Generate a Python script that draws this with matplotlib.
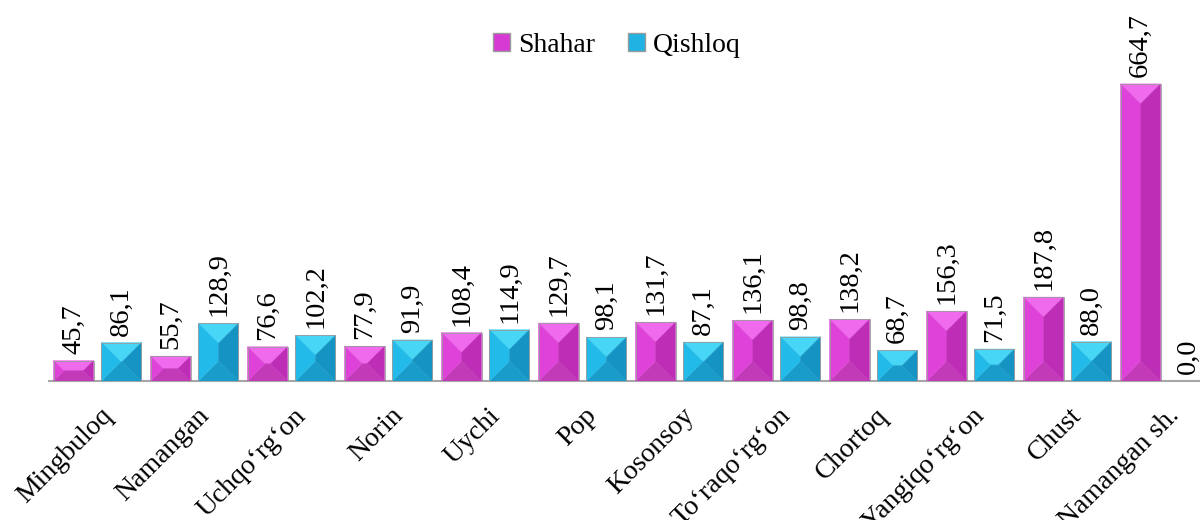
import matplotlib.pyplot as plt
import matplotlib.patches as patches
import matplotlib.transforms as mtransforms
import numpy as np

plt.rcParams['font.family'] = ['Liberation Serif', 'DejaVu Serif']

# data
districts = ["Mingbuloq", "Namangan", "Uchqo\u2018rg\u2018on", "Norin", "Uychi", "Pop",
             "Kosonsoy", "To\u2018raqo\u2018rg\u2018on", "Chortoq", "Yangiqo\u2018rg\u2018on",
             "Chust", "Namangan sh."]
shahar = [45.7, 55.7, 76.6, 77.9, 108.4, 129.7, 131.7, 136.1, 138.2, 156.3, 187.8, 664.7]
qishloq = [86.1, 128.9, 102.2, 91.9, 114.9, 98.1, 87.1, 98.8, 68.7, 71.5, 88.0, 0.0]

# face colours: main, top, left, right, bottom
pink = dict(main="#D73AD2", top="#F06AEE", left="#DE42D8", right="#BE2DB6", bottom="#C23AB8")
blue = dict(main="#1FB2E2", top="#48D6F6", left="#22BAE8", right="#1594C4", bottom="#1A9CCA")

W, H, DPI = 1200, 520, 100
fig = plt.figure(figsize=(W / DPI, H / DPI), dpi=DPI)
ax_left, ax_width = 49 / W, 1164 / W
ax_bottom = (H - 381) / H
ymax = 700
ax_height = ymax * 0.447 / H
ax = fig.add_axes([ax_left, ax_bottom, ax_width, ax_height])

x = np.arange(len(districts))
off, bw = 0.247, 0.412
ax.set_xlim(-0.5, len(districts) - 0.5)
ax.set_ylim(0, ymax)

px_x = ax_width * W / len(districts)   # pixels per x unit
px_y = ax_height * H / ymax            # pixels per y unit


def bevel_bar(xc, h, col):
    if h <= 0:
        return
    x0, x1 = xc - bw / 2, xc + bw / 2
    wpx, hpx = bw * px_x, h * px_y
    d = min(wpx / 2, hpx / 2)
    dx, dy = d / px_x, d / px_y
    faces = [
        ([(x0, h), (x1, h), (x1 - dx, h - dy), (x0 + dx, h - dy)], col["top"]),
        ([(x0, 0), (x1, 0), (x1 - dx, dy), (x0 + dx, dy)], col["bottom"]),
        ([(x0, 0), (x0 + dx, dy), (x0 + dx, h - dy), (x0, h)], col["left"]),
        ([(x1, 0), (x1 - dx, dy), (x1 - dx, h - dy), (x1, h)], col["right"]),
    ]
    if dx < bw / 2:
        faces.append(([(x0 + dx, dy), (x1 - dx, dy), (x1 - dx, h - dy), (x0 + dx, h - dy)], col["main"]))
    for pts, c in faces:
        ax.add_patch(patches.Polygon(pts, closed=True, facecolor=c, edgecolor=c, lw=0.3, zorder=3))
    ax.add_patch(patches.Rectangle((x0, 0), bw, h, facecolor="none", edgecolor="#9a9a9a",
                                   lw=0.6, zorder=4))


for i in range(len(districts)):
    for xc, v, col in ((x[i] - off, shahar[i], pink), (x[i] + off, qishloq[i], blue)):
        bevel_bar(xc, v, col)
        ax.text(xc, v + 7 / px_y, f"{v:.1f}".replace(".", ","), rotation=90,
                ha="center", va="bottom", fontsize=20.5, clip_on=False, zorder=5)

for s in ("top", "right", "left"):
    ax.spines[s].set_visible(False)
ax.spines["bottom"].set_color("#a6a6a6")
ax.spines["bottom"].set_linewidth(1.5)
ax.set_yticks([])
ax.set_xticks(x)
ax.set_xticklabels(districts, rotation=45, ha="right", va="top", rotation_mode="anchor",
                   fontsize=20)
ax.tick_params(axis="x", length=0, pad=16)
for lbl in ax.get_xticklabels():
    lbl.set_transform(lbl.get_transform() + mtransforms.ScaledTranslation(
        2 / DPI, 0, fig.dpi_scale_trans))

handles = [patches.Patch(facecolor=pink["main"], edgecolor="#9a9a9a", label="Shahar"),
           patches.Patch(facecolor=blue["main"], edgecolor="#9a9a9a", label="Qishloq")]
fig.legend(handles=handles, loc="center", bbox_to_anchor=(617 / W, 1 - 45 / H), ncol=2,
           frameon=False, fontsize=20, handlelength=0.6, handleheight=0.6,
           handletextpad=0.3, columnspacing=1.2)

fig.savefig("out.png", dpi=DPI)
